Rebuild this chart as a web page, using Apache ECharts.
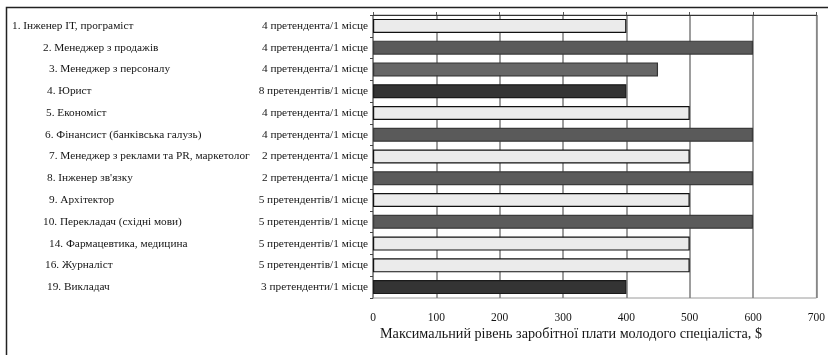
<!DOCTYPE html>
<html>
<head>
<meta charset="utf-8">
<script src="https://cdn.jsdelivr.net/npm/echarts@6/dist/echarts.min.js"></script>
<style>
  html, body { margin: 0; padding: 0; background: #fff; }
  #chart { width: 828px; height: 355px; }
</style>
</head>
<body>
<div id="chart"></div>
<script>
// Professions, competition per vacancy and maximum starting salary ($)
const professions = [
  '1. Інженер ІТ, програміст',
  '2. Менеджер з продажів',
  '3. Менеджер з персоналу',
  '4. Юрист',
  '5. Економіст',
  '6. Фінансист (банківська галузь)',
  '7. Менеджер з реклами та PR, маркетолог',
  '8. Інженер зв\'язку',
  '9. Архітектор',
  '10. Перекладач (східні мови)',
  '14. Фармацевтика, медицина',
  '16. Журналіст',
  '19. Викладач'
];
const competition = [
  '4 претендента/1 місце',
  '4 претендента/1 місце',
  '4 претендента/1 місце',
  '8 претендентів/1 місце',
  '4 претендента/1 місце',
  '4 претендента/1 місце',
  '2 претендента/1 місце',
  '2 претендента/1 місце',
  '5 претендентів/1 місце',
  '5 претендентів/1 місце',
  '5 претендентів/1 місце',
  '5 претендентів/1 місце',
  '3 претенденти/1 місце'
];
const maxSalary = [400, 600, 450, 400, 500, 600, 500, 600, 500, 600, 500, 500, 400];
const salaryTicks = [0, 100, 200, 300, 400, 500, 600, 700];

// Bar shading and name indentation (styling only)
const shade = {
  light:  { fill: '#ebebeb', edge: '#111111' },
  dark:   { fill: '#5a5a5a', edge: '#3a3a3a' },
  mid:    { fill: '#666666', edge: '#333333' },
  darkest:{ fill: '#343434', edge: '#1a1a1a' }
};
const barShades = ['light', 'dark', 'mid', 'darkest', 'light', 'dark', 'light',
                   'dark', 'light', 'dark', 'light', 'light', 'darkest'];
const nameIndent = [0, 31, 37, 35, 34, 33, 37, 35, 37, 31, 37, 33, 35];

const FONT = "'Liberation Serif', 'Times New Roman', serif";
const LABEL_SIZE = 11.3;
const TEXT_COLOR = '#151515';
const AXIS_X = 373;
const NAME_X = 12;

const nameRich = {};
nameIndent.forEach((pad, i) => {
  nameRich['r' + i] = {
    fontFamily: FONT, fontSize: LABEL_SIZE, color: TEXT_COLOR,
    padding: [0, 0, 0, pad]
  };
});

const chart = echarts.init(document.getElementById('chart'), null, { renderer: 'canvas' });

chart.setOption({
  animation: false,
  backgroundColor: '#ffffff',
  grid: {
    left: AXIS_X, top: 15, right: 10, bottom: 57,
    show: true, borderColor: '#9a9a9a', borderWidth: 1, backgroundColor: 'transparent'
  },
  xAxis: [
    {
      type: 'value', position: 'top',
      min: salaryTicks[0], max: salaryTicks[salaryTicks.length - 1],
      interval: salaryTicks[1] - salaryTicks[0],
      axisLine: { show: true, lineStyle: { color: '#333', width: 1 } },
      axisTick: { show: true, length: 3, lineStyle: { color: '#555' } },
      axisLabel: { show: false },
      splitLine: { show: true, lineStyle: { color: '#7c7c7c', width: 1.5 } }
    },
    {
      type: 'value', position: 'bottom',
      min: salaryTicks[0], max: salaryTicks[salaryTicks.length - 1],
      interval: salaryTicks[1] - salaryTicks[0],
      axisLine: { show: false },
      axisTick: { show: false },
      splitLine: { show: false },
      axisLabel: {
        margin: 14, fontFamily: FONT, fontSize: 11.5, color: TEXT_COLOR,
        formatter: v => String(v)
      }
    }
  ],
  yAxis: [
    {
      type: 'category', inverse: true, position: 'left',
      data: competition,
      axisLine: { show: true, lineStyle: { color: '#8a8a8a', width: 1 } },
      axisTick: { show: true, length: 3, inside: false, lineStyle: { color: '#444' } },
      axisLabel: { margin: 5, fontFamily: FONT, fontSize: LABEL_SIZE, color: TEXT_COLOR },
      splitLine: { show: false }
    },
    {
      type: 'category', inverse: true, position: 'left',
      data: professions,
      axisLine: { show: false },
      axisTick: { show: false },
      splitLine: { show: false },
      axisLabel: {
        margin: AXIS_X - NAME_X, align: 'left',
        fontFamily: FONT, fontSize: LABEL_SIZE, color: TEXT_COLOR,
        formatter: (v, i) => '{r' + i + '|' + v + '}',
        rich: nameRich
      }
    }
  ],
  series: [
    {
      type: 'bar',
      xAxisIndex: 0, yAxisIndex: 0,
      barWidth: 14,
      data: maxSalary.map((v, i) => ({
        value: v,
        itemStyle: {
          color: shade[barShades[i]].fill,
          borderColor: shade[barShades[i]].edge,
          borderWidth: 1.2
        }
      }))
    }
  ],
  graphic: [
    {
      type: 'rect', silent: true, z: 100,
      shape: { x: 6.5, y: 7.5, width: 900, height: 400 },
      style: { fill: 'none', stroke: '#222', lineWidth: 1.5 }
    },
    {
      type: 'text', left: 380, top: 327, silent: true,
      style: {
        text: 'Максимальний рівень заробітної плати молодого спеціаліста, $',
        fontFamily: FONT, fontSize: 14.2, fill: TEXT_COLOR
      }
    }
  ]
});
</script>
</body>
</html>
